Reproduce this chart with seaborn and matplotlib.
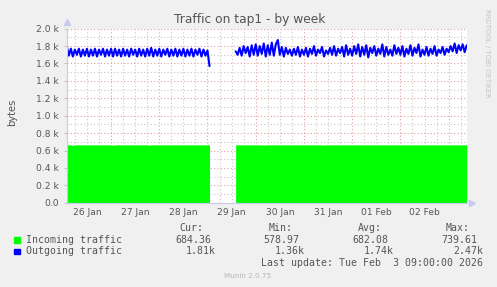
import numpy as np
import pandas as pd
import matplotlib
matplotlib.use("Agg")
import matplotlib.pyplot as plt
import matplotlib.dates as mdates
from matplotlib.ticker import FixedLocator, FuncFormatter
import seaborn as sns

# ---------------- data (values in k bytes, hourly samples) ----------------
seg1_start = "2026-01-26 02:00"
seg2_start = "2026-01-29 14:00"

out_seg1 = [1.80,1.69,1.77,1.68,1.76,1.70,1.77,1.68,1.76,1.69,1.77,1.68,
            1.76,1.69,1.77,1.68,1.76,1.70,1.77,1.68,1.76,1.69,1.77,1.68,
            1.77,1.69,1.76,1.68,1.77,1.69,1.76,1.68,1.77,1.70,1.76,1.68,
            1.77,1.69,1.76,1.68,1.77,1.69,1.78,1.68,1.76,1.69,1.77,1.68,
            1.76,1.70,1.77,1.68,1.76,1.69,1.77,1.68,1.76,1.69,1.77,1.68,
            1.76,1.69,1.77,1.68,1.76,1.70,1.77,1.68,1.76,1.69,1.75,1.57]
out_seg2 = [1.74,1.70,1.78,1.69,1.80,1.72,1.79,1.68,1.81,1.70,
            1.82,1.69,1.80,1.71,1.83,1.68,1.81,1.70,1.84,1.69,1.82,1.87,1.70,1.79,1.68,1.78,1.71,1.76,1.69,1.77,1.70,1.79,1.68,1.76,
            1.70,1.78,1.68,1.77,1.71,1.80,1.69,1.76,1.72,1.79,1.68,1.75,1.71,1.78,1.70,1.80,1.69,1.77,1.72,1.79,1.68,1.81,1.70,1.77,
            1.69,1.80,1.71,1.82,1.68,1.79,1.70,1.81,1.67,1.78,1.72,1.80,1.69,1.77,1.71,1.82,1.68,1.79,1.70,1.76,1.69,1.81,1.71,1.78,
            1.70,1.80,1.68,1.77,1.71,1.81,1.69,1.78,1.72,1.82,1.68,1.76,1.70,1.79,1.69,1.77,1.71,1.80,1.69,1.76,1.72,1.79,1.70,1.77,
            1.73,1.80,1.74,1.83,1.72,1.81,1.75,1.82,1.73,1.81]
in_seg1 = [0.665,0.665,0.665,0.660,0.665,0.665,0.665,0.665,0.665,0.665,0.665,0.665,
           0.665,0.665,0.665,0.665,0.665,0.665,0.665,0.665,0.665,0.665,0.665,0.660,
           0.665,0.665,0.665,0.665,0.665,0.665,0.665,0.665,0.665,0.665,0.665,0.665,
           0.665,0.665,0.665,0.665,0.665,0.660,0.665,0.665,0.665,0.665,0.665,0.665,
           0.665,0.665,0.665,0.665,0.665,0.665,0.665,0.665,0.665,0.665,0.665,0.665,
           0.665,0.665,0.665,0.665,0.665,0.665,0.665,0.665,0.665,0.665,0.665,0.665]
in_seg2 = [0.665]*10 + [0.665,0.665,0.665,0.665,0.660,0.665,0.665,0.665,0.665,0.665,0.665,0.665,
                        0.665,0.665,0.665,0.665,0.665,0.665,0.665,0.665,0.665,0.665,0.665,0.665] + \
          [0.665,0.665,0.665,0.665,0.665,0.665,0.665,0.665,0.665,0.665,0.660,0.665,
           0.665,0.665,0.665,0.665,0.665,0.665,0.665,0.665,0.665,0.665,0.665,0.665] + \
          [0.665]*24 + [0.665]*24 + [0.665]*10

y_ticks = [0, 200, 400, 600, 800, 1000, 1200, 1400, 1600, 1800, 2000]
legend_rows = [
    ("Incoming traffic", "#00ff00", ["684.36", "578.97", "682.08", "739.61"]),
    ("Outgoing traffic", "#0000ff", ["1.81k", "1.36k", "1.74k", "2.47k"]),
]
headers = ["Cur:", "Min:", "Avg:", "Max:"]

# ---------------- frame ----------------
def seg_frame(start, out, inc, seg):
    t = pd.date_range(start, periods=len(out), freq="h")
    return pd.DataFrame({"time": t, "out": np.array(out) * 1000,
                         "inc": np.array(inc) * 1000, "seg": seg})

df = pd.concat([seg_frame(seg1_start, out_seg1, in_seg1, 1),
                seg_frame(seg2_start, out_seg2, in_seg2, 2)], ignore_index=True)

sns.set_style("white")
plt.rcParams["font.family"] = ["DejaVu Sans"]

W, H = 497, 287
fig = plt.figure(figsize=(W / 100, H / 100), dpi=100, facecolor="#f0f0f0")
ax = fig.add_axes([66.7 / W, 84.3 / H, 400 / W, 174 / H])
ax.set_facecolor("white")

x0 = pd.Timestamp("2026-01-26 01:56")
x1 = pd.Timestamp("2026-02-03 09:00")

# grid lines
red = "#e4a0a0"
gray = "#c8c8c8"
for t in pd.date_range("2026-01-26 06:00", "2026-02-03 06:00", freq="6h"):
    if t.hour == 0:
        continue
    ax.axvline(t, color=gray, lw=0.8, ls=(0, (1, 2)), zorder=1)
for t in pd.date_range("2026-01-27", "2026-02-03", freq="D"):
    ax.axvline(t, color=red, lw=0.8, ls=(0, (1, 2)), zorder=1)
for v in range(100, 2000, 200):
    ax.axhline(v, color=gray, lw=0.8, ls=(0, (1, 2)), zorder=1)
for v in y_ticks[1:]:
    ax.axhline(v, color=red, lw=0.8, ls=(0, (1, 2)), zorder=1)

# incoming area
for s, g in df.groupby("seg"):
    ax.fill_between(g["time"], 0, g["inc"], color="#00ff00", lw=0, zorder=2)
# outgoing line
sns.lineplot(data=df, x="time", y="out", units="seg", estimator=None,
             color="#0000ff", lw=1.5, ax=ax, zorder=3)

ax.set_xlim(x0, x1)
ax.set_ylim(0, 2000)
ax.set_xlabel("")
ax.set_ylabel("")

txt = "#555555"
ax.yaxis.set_major_locator(FixedLocator(y_ticks))
ax.yaxis.set_major_formatter(FuncFormatter(lambda v, p: "0.0" if v == 0 else f"{v/1000:.1f} k"))
ax.tick_params(axis="y", length=2, width=0.6, color="#bbbbbb", labelsize=6.6,
               labelcolor=txt, pad=3.5, left=True)
ax.xaxis.set_major_locator(mdates.HourLocator(byhour=[12]))
ax.xaxis.set_major_formatter(mdates.DateFormatter("%d %b"))
ax.tick_params(axis="x", length=0, labelsize=6.6, labelcolor=txt, pad=4)

for sp in ["top", "right"]:
    ax.spines[sp].set_visible(False)
for sp in ["left", "bottom"]:
    ax.spines[sp].set_color("#c8c8f0")
    ax.spines[sp].set_linewidth(0.8)
    ax.spines[sp].set_zorder(4)
ax.plot([0], [1.04], marker="^", ms=4, color="#c8c8f0", transform=ax.transAxes, clip_on=False)
ax.plot([1.012], [0], marker=">", ms=4, color="#c8c8f0", transform=ax.transAxes, clip_on=False)

fig.text(250 / W, 1 - 19 / H, "Traffic on tap1 - by week", ha="center", va="center",
         fontsize=8.8, color=txt)
fig.text(12 / W, 1 - 112 / H, "bytes", ha="center", va="center", rotation=90,
         fontsize=7.2, color=txt)
fig.text(487 / W, 1 - 53 / H, "RRDTOOL / TOBI OETIKER", ha="center", va="center",
         rotation=270, fontsize=5.0, color="#c4c4c4")

mono = "DejaVu Sans Mono"
fs = 7.1
hx = [203, 293, 382, 470]
for h, x in zip(headers, hx):
    fig.text(x / W, 1 - 228 / H, h, ha="right", va="center", family=mono, fontsize=fs, color=txt)
val_x = [[211, 299, 388, 477], [216, 305, 394, 483]]
row_y = [240, 251.5]
for (name, col, vals), vx, y in zip(legend_rows, val_x, row_y):
    fig.patches.append(plt.Rectangle((14 / W, 1 - (y + 2.5) / H), 5.5 / W, 5.5 / H,
                                     transform=fig.transFigure, color=col))
    fig.text(26.5 / W, 1 - y / H, name, ha="left", va="center", family=mono, fontsize=fs, color=txt)
    for v, x in zip(vals, vx):
        fig.text(x / W, 1 - y / H, v, ha="right", va="center", family=mono, fontsize=fs, color=txt)
fig.text(483 / W, 1 - 263.5 / H, "Last update: Tue Feb  3 09:00:00 2026", ha="right",
         va="center", family=mono, fontsize=fs, color=txt)
fig.text(248 / W, 1 - 276 / H, "Munin 2.0.75", ha="center", va="center",
         fontsize=5.2, color="#b8b8b8")

fig.savefig("out.png", dpi=100, facecolor=fig.get_facecolor())
